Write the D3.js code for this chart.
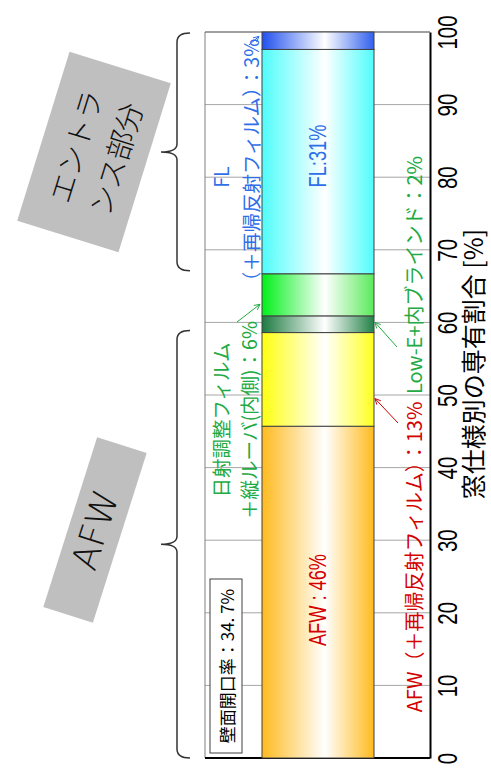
<!DOCTYPE html>
<html><head><meta charset="utf-8">
<script src="https://cdn.jsdelivr.net/npm/d3@7"></script>
<style>html,body{margin:0;padding:0;background:#fff;}svg{display:block;}</style>
</head><body>
<svg id="c" width="491" height="773"></svg>
<script>
// ---- data ----
const categories = ["AFW", "AFW（＋再帰反射フィルム）", "Low-E+内ブラインド", "日射調整フィルム＋縦ルーバ(内側)", "FL", "FL（＋再帰反射フィルム）"];
const values = [45.7, 12.9, 2.3, 5.8, 30.9, 2.4];
const segColorsL = ["#FFBA1E", "#FFFF10", "#1C7A40", "#00F018", "#50FCFC", "#2050EE"];
const segColorsR = ["#FFBA1E", "#FFFF20", "#238248", "#5AEA5A", "#50FCFC", "#3060EE"];
const tickValues = [0, 10, 20, 30, 40, 50, 60, 70, 80, 90, 100];
const axisTitle = "窓仕様別の専有割合 [%]";
const groupNames = ["エントラ|ンス部分", "AFW"];
const openingRatio = "壁面開口率：34. 7%";

const svg = d3.select("#c");
const y = d3.scaleLinear().domain([0, 100]).range([758, 32]);
const plotL = 205, plotR = 430;
const barX = d3.scaleLinear().domain([0, 1]).range([262, 374]);
const JP = "'Noto Sans CJK JP','Noto Sans',sans-serif";
const LAT = "'Liberation Sans',Arial,sans-serif";

let cum = 0;
const segs = values.map((v, i) => { const s = {i, y0: cum, y1: cum + v, v, name: categories[i]}; cum += v; return s; });

const defs = svg.append("defs");
segColorsL.forEach((c, i) => {
  const g = defs.append("linearGradient").attr("id", "g" + i).attr("x1", "0%").attr("x2", "100%").attr("y1", "0%").attr("y2", "0%");
  g.append("stop").attr("offset", "0%").attr("stop-color", c);
  g.append("stop").attr("offset", "56%").attr("stop-color", "#fff");
  g.append("stop").attr("offset", "100%").attr("stop-color", segColorsR[i]);
});
function marker(id, color) {
  defs.append("marker").attr("id", id).attr("viewBox", "0 0 10 10").attr("refX", 9).attr("refY", 5)
    .attr("markerWidth", 7).attr("markerHeight", 7).attr("orient", "auto")
    .append("path").attr("d", "M1,1 L9,5 L1,9").attr("fill", "none").attr("stroke", color).attr("stroke-width", 1.3);
}
marker("mb", "#2F6FE8"); marker("mg", "#22AA44"); marker("mr", "#D40000");

// gridlines
svg.append("g").selectAll("line").data(tickValues.filter(t => t > 0 && t < 100)).join("line")
  .attr("x1", plotL).attr("x2", plotR).attr("y1", d => y(d)).attr("y2", d => y(d))
  .attr("stroke", "#A6A6A6").attr("stroke-width", 1);

// frame
svg.append("line").attr("x1", plotL).attr("x2", plotL).attr("y1", y(100)).attr("y2", y(0)).attr("stroke", "#808080");
svg.append("line").attr("x1", plotL).attr("x2", plotR).attr("y1", y(100)).attr("y2", y(100)).attr("stroke", "#404040");
svg.append("line").attr("x1", plotL).attr("x2", plotR).attr("y1", y(0)).attr("y2", y(0)).attr("stroke", "#000").attr("stroke-width", 2);

// bars
svg.append("g").selectAll("rect").data(segs).join("rect")
  .attr("x", barX(0)).attr("width", barX(1) - barX(0))
  .attr("y", d => y(d.y1)).attr("height", d => y(d.y0) - y(d.y1))
  .attr("fill", d => "url(#g" + d.i + ")").attr("stroke", "#404040").attr("stroke-width", 1);

// axis
const ax = svg.append("g").attr("transform", `translate(${plotR},0)`)
  .call(d3.axisRight(y).tickValues(tickValues).tickSize(0).tickPadding(0));
ax.select(".domain").attr("stroke", "#000").attr("stroke-width", 2);
ax.selectAll("text").attr("x", null).attr("dy", null).attr("font-size", 27).attr("font-family", LAT)
  .attr("fill", "#000").attr("text-anchor", "middle").attr("dominant-baseline", "central")
  .attr("transform", `translate(17,0) rotate(-90) scale(0.76,1)`);

function rtext(x, yy, txt, size, color, opts = {}) {
  return svg.append("text").attr("transform", `translate(${x},${yy}) rotate(-90)` + (opts.sx ? ` scale(${opts.sx},1)` : ""))
    .attr("text-anchor", "middle").attr("dominant-baseline", "central")
    .attr("font-size", size).attr("fill", color).attr("font-family", opts.font || JP).text(txt);
}
rtext(472, 364, axisTitle, 25, "#000");

const bc = (barX(0) + barX(1)) / 2;
rtext(bc, 156, "FL:31%", 24, "#2F6FE8", {font: LAT, sx: 0.76});
rtext(bc, 600, "AFW : 46%", 24, "#D40000", {font: LAT, sx: 0.76});

rtext(220, 177, "FL", 19.5, "#2F6FE8");
rtext(250, 165, "（＋再帰反射フィルム）：3%", 19.5, "#2F6FE8");
rtext(220, 420, "日射調整フィルム", 19.5, "#22AA44");
rtext(248, 420, "＋縦ルーバ(内側)：6%", 19.5, "#22AA44");
rtext(413, 275, "Low-E+内ブラインド：2%", 20, "#22AA44");
rtext(413, 557, "AFW（＋再帰反射フィルム）：13%", 20, "#D40000");

function arrow(x1, y1, x2, y2, color, m) {
  svg.append("line").attr("x1", x1).attr("y1", y1).attr("x2", x2).attr("y2", y2)
    .attr("stroke", color).attr("stroke-width", 1).attr("marker-end", `url(#${m})`);
}
arrow(249, 45, barX(0) - 3, y(99.4), "#2F6FE8", "mb");
arrow(237, 322, barX(0) - 2, y(62.5), "#22AA44", "mg");
arrow(397, 347, barX(1) + 1, y(60.0), "#22AA44", "mg");
arrow(398, 423, barX(1) + 1, y(49.5), "#D40000", "mr");

svg.append("rect").attr("x", 210).attr("y", 579).attr("width", 32).attr("height", 174)
  .attr("fill", "#fff").attr("stroke", "#404040").attr("stroke-width", 1);
rtext(226, 666, openingRatio, 17, "#000");

function brace(yTop, yBot) {
  const m = (yTop + yBot) / 2, x = 177, hx = 190, tip = 161;
  const p = `M${hx},${yTop} Q${x},${yTop} ${x},${yTop + 9} L${x},${m - 8} Q${x},${m} ${tip},${m} Q${x},${m} ${x},${m + 8} L${x},${yBot - 9} Q${x},${yBot} ${hx},${yBot}`;
  svg.append("path").attr("d", p).attr("fill", "none").attr("stroke", "#333").attr("stroke-width", 1.5);
}
brace(y(segs[5].y1) + 1, y(segs[4].y0) - 3);
brace(y(segs[1].y1) - 2, y(segs[0].y0));

function gbox(cx, cy, w, h, ang, lines, size, font, gap, weight) {
  const g = svg.append("g").attr("transform", `translate(${cx},${cy}) rotate(${ang})`);
  g.append("rect").attr("x", -h / 2).attr("y", -w / 2).attr("width", h).attr("height", w).attr("fill", "#BFBFBF");
  lines.forEach((l, i) => {
    g.append("text").attr("x", 0).attr("y", (i - (lines.length - 1) / 2) * gap)
      .attr("text-anchor", "middle").attr("dominant-baseline", "central")
      .attr("font-size", size).attr("font-family", font).attr("font-weight", weight).attr("fill", "#111").text(l);
  });
}
gbox(94, 152, 106, 177, -72.8, groupNames[0].split("|"), 29, JP, 42, 300);
gbox(95, 530, 52, 178, -72.4, [groupNames[1]], 36, "'DejaVu Sans','Liberation Sans',sans-serif", 0, 200);
</script>
</body></html>
